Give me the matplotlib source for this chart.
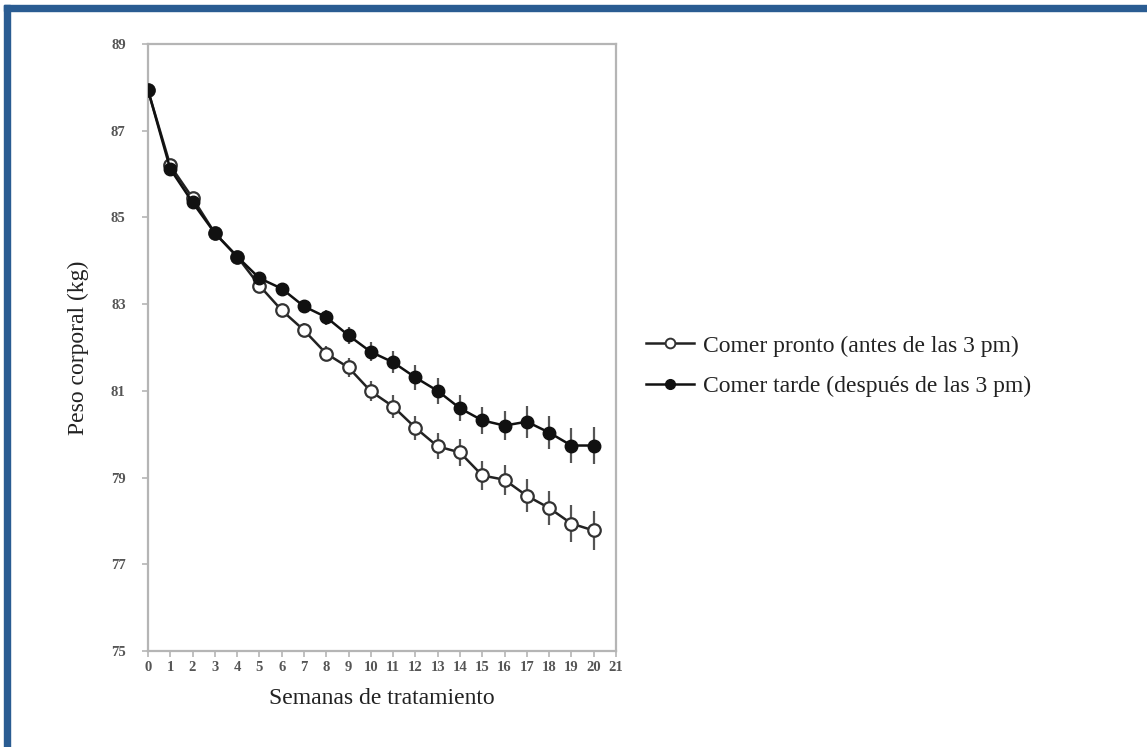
import matplotlib
matplotlib.use("Agg")
import matplotlib.pyplot as plt
from matplotlib.lines import Line2D
from matplotlib.patches import Rectangle

weeks = list(range(21))

# Comer pronto (antes de las 3 pm)
early_kg = [87.94, 86.2, 85.45, 84.64, 84.1, 83.43, 82.86, 82.4, 81.86, 81.54, 80.99,
            80.64, 80.15, 79.72, 79.58, 79.05, 78.95, 78.58, 78.3, 77.94, 77.78]
early_err = [0.0, 0.05, 0.05, 0.05, 0.06, 0.1, 0.13, 0.16, 0.18, 0.21, 0.23,
             0.26, 0.28, 0.3, 0.31, 0.33, 0.35, 0.38, 0.4, 0.42, 0.44]

# Comer tarde (despues de las 3 pm)
late_kg = [87.94, 86.12, 85.35, 84.64, 84.1, 83.6, 83.36, 82.95, 82.7, 82.28, 81.9,
           81.66, 81.31, 81.0, 80.6, 80.32, 80.2, 80.29, 80.04, 79.74, 79.74]
late_err = [0.0, 0.05, 0.05, 0.05, 0.06, 0.1, 0.12, 0.15, 0.17, 0.2, 0.22,
            0.25, 0.28, 0.3, 0.3, 0.32, 0.33, 0.37, 0.38, 0.4, 0.42]

yticks = [75, 77, 79, 81, 83, 85, 87, 89]

serif = ["Liberation Serif", "DejaVu Serif"]

fig = plt.figure(figsize=(11.47, 7.47), dpi=100)
ax = fig.add_axes([0.129, 0.1285, 0.408, 0.8125])

ax.errorbar(weeks, early_kg, yerr=early_err, color="#222222", ecolor="#555555",
            elinewidth=1.6, capsize=0, lw=1.8, marker="o", ms=9,
            mfc="white", mec="#333333", mew=1.6, zorder=3)
ax.errorbar(weeks, late_kg, yerr=late_err, color="#111111", ecolor="#555555",
            elinewidth=1.6, capsize=0, lw=1.8, marker="o", ms=9,
            mfc="#111111", mec="#111111", zorder=4)

ax.set_xlim(0, 21)
ax.set_ylim(75, 89)
ax.set_xticks(range(22))
ax.set_yticks(yticks)
for s in ax.spines.values():
    s.set_color("#b5b5b5")
    s.set_linewidth(1.6)
ax.tick_params(colors="#b5b5b5", labelcolor="#555555", length=4, width=1.2, labelsize=10.5)
for lab in ax.get_xticklabels() + ax.get_yticklabels():
    lab.set_family(serif)
    lab.set_fontweight("bold")
ax.tick_params(axis="y", pad=12)

ax.set_xlabel("Semanas de tratamiento", family=serif, fontsize=17, color="#222222", labelpad=10)
ax.set_ylabel("Peso corporal (kg)", family=serif, fontsize=17, color="#222222", labelpad=16)

handles = [
    Line2D([], [], color="#222222", lw=1.8, marker="o", ms=7, mfc="white", mec="#333333", mew=1.4),
    Line2D([], [], color="#111111", lw=1.8, marker="o", ms=7, mfc="#111111", mec="#111111"),
]
labels = ["Comer pronto (antes de las 3 pm)", "Comer tarde (después de las 3 pm)"]
leg = fig.legend(handles, labels, loc="upper left", bbox_to_anchor=(0.545, 0.58), frameon=False,
                 prop={"family": serif, "size": 17}, handlelength=2.0,
                 handletextpad=0.4, labelspacing=0.8)
for t in leg.get_texts():
    t.set_color("#222222")

# blue frame along top and left edge
fig.patches.append(Rectangle((0.0035, 0.0), 0.0052, 0.9935, transform=fig.transFigure,
                             color="#2a5c92", zorder=10))
fig.patches.append(Rectangle((0.0035, 0.985), 0.9965, 0.0085, transform=fig.transFigure,
                             color="#2a5c92", zorder=10))

fig.savefig("out.png", dpi=100)
